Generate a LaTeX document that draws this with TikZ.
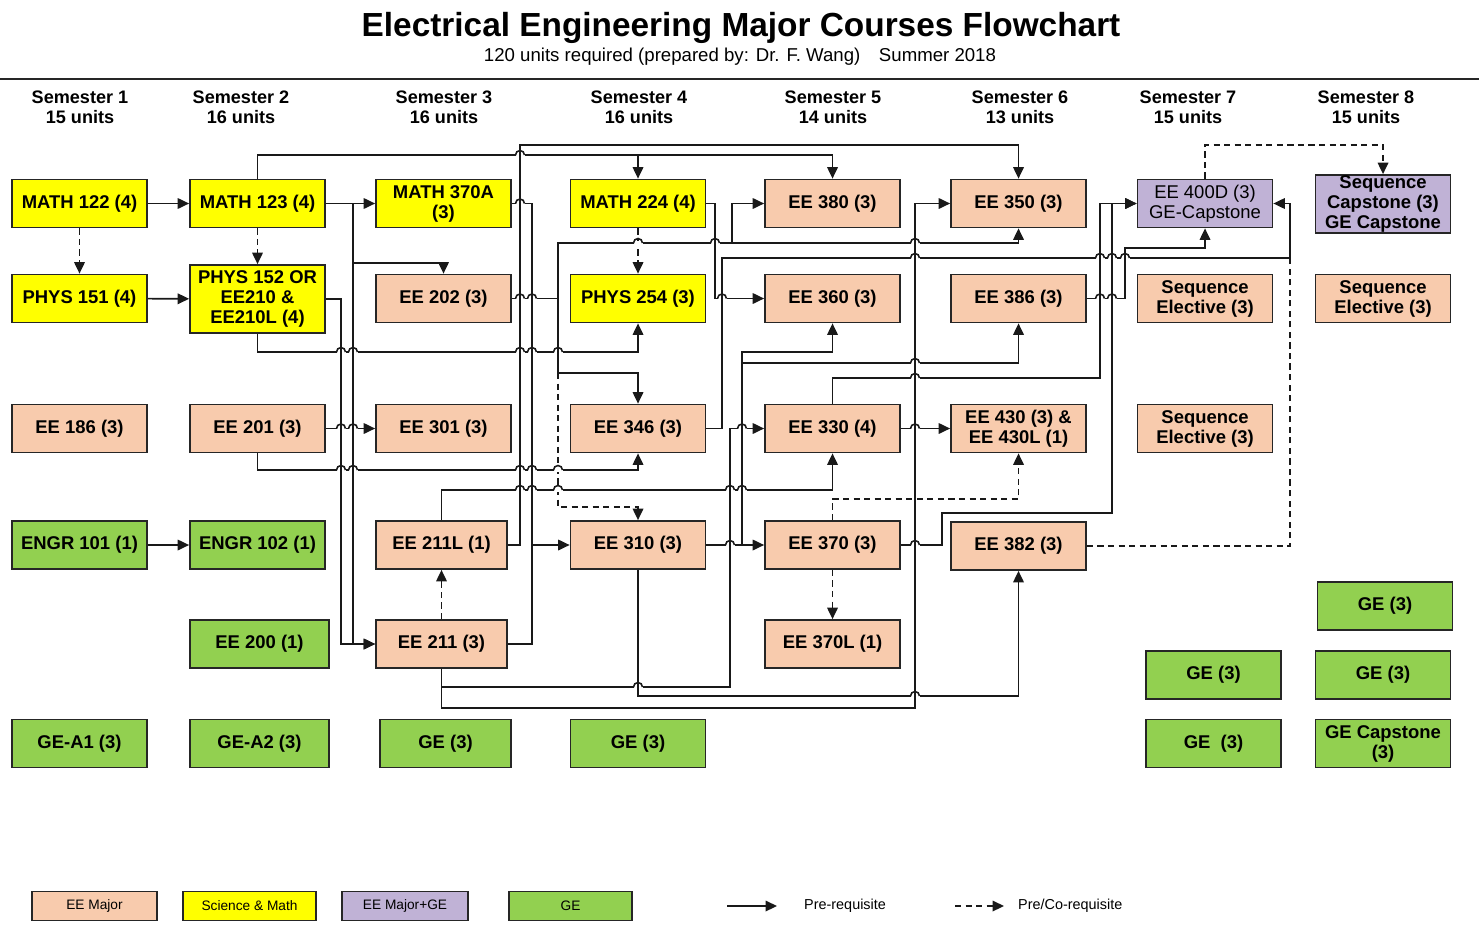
\documentclass[tikz,border=0pt]{standalone}
\usepackage{fontspec}
\setmainfont{Liberation Sans}
\usetikzlibrary{arrows.meta}
\definecolor{eepeach}{HTML}{F8CBAD}
\definecolor{scimath}{HTML}{FFFF00}
\definecolor{eege}{HTML}{C0B2D6}
\definecolor{gegreen}{HTML}{92D050}
\begin{document}
\begin{tikzpicture}[x=0.02cm, y=-0.02cm,
    course/.style={draw=black!85, line width=1pt, minimum width=2.7cm, minimum height=0.96cm, align=center, inner sep=1pt, font=\fontsize{10.5}{11.4}\selectfont\bfseries},
    ee/.style={course, fill=eepeach},
    sci/.style={course, fill=scimath},
    mix/.style={course, fill=eege},
    gen/.style={course, fill=gegreen},
    sem/.style={align=center, font=\fontsize{10.3}{11.4}\selectfont\bfseries},
    legbox/.style={draw=black!85, line width=0.8pt, minimum height=0.58cm, font=\fontsize{7.8}{9}\selectfont},
    link/.style={line width=0.9pt, black!90},
    colink/.style={link, dash pattern=on 3.5pt off 2.5pt},
    pre/.style={link, -{Triangle[length=6.5pt,width=6pt]}},
    co/.style={colink, -{Triangle[length=6.5pt,width=6pt]}}]
\useasboundingbox (0,0) rectangle (1479,933);

    \node[font=\fontsize{19}{21}\selectfont\bfseries] (title) at (741,28) {Electrical Engineering Major Courses Flowchart};
    \node[font=\fontsize{10.6}{12}\selectfont] (subtitle) at (740,57) {120 units required (prepared by: Dr. F. Wang)\quad Summer 2018};
\draw[line width=1.4pt, black!85] (0,79) -- (1479,79);
\foreach \x/\n/\u in {80/1/15, 241/2/16, 444/3/16, 639/4/16, 833/5/14, 1020/6/13, 1188/7/15, 1366/8/15}
    \node[sem] (sem\n) at (\x,107) {Semester \n\\\u\ units};

    \node[sci] (m122) at (79.5,203.5) {MATH 122 (4)};
    \node[sci] (p151) at (79.5,298.5) {PHYS 151 (4)};
    \node[ee] (ee186) at (79.5,428.5) {EE 186 (3)};
    \node[gen] (engr101) at (79.5,545) {ENGR 101 (1)};
    \node[gen] (gea1) at (79.5,743.5) {GE-A1 (3)};

    \node[sci] (m123) at (257.5,203.5) {MATH 123 (4)};
    \node[sci, minimum height=1.36cm] (p152) at (257.5,299) {PHYS 152 OR\\EE210 \&\\EE210L (4)};
    \node[ee] (ee201) at (257.5,428.5) {EE 201 (3)};
    \node[gen] (engr102) at (257.5,545) {ENGR 102 (1)};
    \node[gen, minimum width=2.78cm] (ee200) at (259.5,644) {EE 200 (1)};
    \node[gen, minimum width=2.78cm] (gea2) at (259.5,743.5) {GE-A2 (3)};

    \node[sci] (m370) at (443.5,203.5) {MATH 370A\\(3)};
    \node[ee] (ee202) at (443.5,298.5) {EE 202 (3)};
    \node[ee] (ee301) at (443.5,428.5) {EE 301 (3)};
    \node[ee, minimum width=2.62cm] (ee211l) at (441.5,545) {EE 211L (1)};
    \node[ee, minimum width=2.62cm] (ee211) at (441.5,644) {EE 211 (3)};
    \node[gen, minimum width=2.62cm] (ge3) at (445.5,743.5) {GE (3)};

    \node[sci] (m224) at (638,203.5) {MATH 224 (4)};
    \node[sci] (p254) at (638,298.5) {PHYS 254 (3)};
    \node[ee] (ee346) at (638,428.5) {EE 346 (3)};
    \node[ee] (ee310) at (638,545) {EE 310 (3)};
    \node[gen] (ge4) at (638,743.5) {GE (3)};

    \node[ee] (ee380) at (832.5,203.5) {EE 380 (3)};
    \node[ee] (ee360) at (832.5,298.5) {EE 360 (3)};
    \node[ee] (ee330) at (832.5,428.5) {EE 330 (4)};
    \node[ee] (ee370) at (832.5,545) {EE 370 (3)};
    \node[ee] (ee370l) at (832.5,644) {EE 370L (1)};

    \node[ee] (ee350) at (1018.5,203.5) {EE 350 (3)};
    \node[ee] (ee386) at (1018.5,298.5) {EE 386 (3)};
    \node[ee] (ee430) at (1018.5,428.5) {EE 430 (3) \&\\EE 430L (1)};
    \node[ee] (ee382) at (1018.5,546) {EE 382 (3)};

    \node[mix, font=\fontsize{10.5}{11.4}\selectfont] (ee400) at (1205,203.5) {EE 400D (3)\\GE-Capstone};
    \node[ee] (seq7a) at (1205,298.5) {Sequence\\Elective (3)};
    \node[ee] (seq7b) at (1205,428.5) {Sequence\\Elective (3)};
    \node[gen] (ge7a) at (1213.5,675) {GE (3)};
    \node[gen] (ge7b) at (1213.5,743.5) {GE~ (3)};

    \node[mix, minimum height=1.16cm, inner sep=0pt] (seqcap) at (1383,204) {Sequence\\Capstone (3)\\GE Capstone};
    \node[ee] (seq8) at (1383,298.5) {Sequence\\Elective (3)};
    \node[gen] (ge8a) at (1385,606) {GE (3)};
    \node[gen] (ge8b) at (1383,675) {GE (3)};
    \node[gen] (gecap) at (1383,743.5) {GE Capstone\\(3)};

\draw[pre] (m122) -- (m123);
\draw[pre] (p151) -- (p152);
\draw[pre] (engr101) -- (engr102);
\draw[pre] (ee201) -- (ee301);
\draw[pre] (m123) -- (m370);
\draw[pre] (m123.east) -- (353,203.5) -- (353,263) -| (ee202.north);
\draw[pre] (353,203.5) |- (ee211.west);
\draw[pre] (p152.east) -- (341,299) |- (ee211.west);
\draw[pre] (m123.north) -- (257.5,155) -| (m224.north);
\draw[pre] (638,155) -| (ee380.north);
\draw[pre] (ee211l.east) -| (520,145) -| (ee350.north);
\draw[link] (m370.east) -| (532,644) -- (ee211.east);
\draw[pre] (532,545) -- (ee310.west);
\draw[link] (ee202.east) -- (558,298.5);
\draw[pre] (558,373) -- (558,243) -| (ee350.south);
\draw[pre] (732,243) |- (ee380.west);
\draw[pre] (558,373) -| (ee346.north);
\draw[co] (558,373) -- (558,507) -| (ee310.north);
\draw[pre] (p152.south) -- (257.5,352) -| (p254.south);
\draw[pre] (ee201.south) -- (257.5,470) -| (ee346.south);
\draw[pre] (ee211l.north) -- (441.5,490) -| (ee330.south);
\draw[pre] (m224.east) -- (715,203.5) |- (ee360.west);
\draw[pre] (ee346.east) -| (722,258) -| (1290,203.5) -- (ee400.east);
\draw[colink] (ee382.east) -| (1290,258);
\draw[pre] (ee211.south) -- (441.5,687) -| (730,428.5) -- (ee330.west);
\draw[pre] (ee211.south) -- (441.5,708) -| (915,203.5) -- (ee350.west);
\draw[pre] (ee310.south) -- (638,696) -| (ee382.south);
\draw[pre] (ee310) -- (ee370);
\draw[pre] (742,545) -- (742,352) -| (ee360.south);
\draw[pre] (742,363) -| (ee386.south);
\draw[pre] (ee330) -- (ee430);
\draw[pre] (ee330.north) -- (832.5,378) -| (1100,203.5) -- (ee400.west);
\draw[pre] (ee370.east) -- (942,545) -- (942,513) -| (1112,203.5) -- (ee400.west);
\draw[pre] (ee386.east) -- (1125,298.5) |- (1205,248) -- (ee400.south);
\draw[co] (ee370.north) -- (832.5,499) -| (ee430.south);
\draw[co] (ee370) -- (ee370l);
\draw[co] (m122) -- (p151);
\draw[co] (m123) -- (p152);
\draw[co] (m224) -- (p254);
\draw[co] (ee211) -- (ee211l);
\draw[co] (ee400.north) |- (1300,145) -| (seqcap.north);

\foreach \hx/\hy in {341/352, 353/352, 520/352, 532/352, 558/352, 341/428.5, 353/428.5, 341/470, 353/470, 520/470, 532/470, 520/490, 532/490, 730/490, 742/490, 520/298.5, 532/298.5, 520/203.5, 520/155, 715/243, 915/243, 915/258, 1100/258, 1112/258, 1125/258, 915/363, 915/378, 742/428.5, 915/428.5, 730/545, 915/545, 722/298.5, 1100/298.5, 1112/298.5, 638/687, 915/696} {
    \fill[white] (\hx-4.5,\hy-2) rectangle (\hx+4.5,\hy+2);
    \draw[link] (\hx,\hy-5) -- (\hx,\hy+5);
    \draw[link] (\hx-4.5,\hy) arc[start angle=180, end angle=0, radius=0.09cm];
}
\foreach \hx/\hy in {558/470, 558/490, 638/243} {
    \fill[white] (\hx-4.5,\hy-2) rectangle (\hx+4.5,\hy+2);
    \draw[link] (\hx-4.5,\hy) arc[start angle=180, end angle=0, radius=0.09cm];
}

    \node[legbox, fill=eepeach, minimum width=2.5cm] (legee) at (94.5,906) {EE Major};
    \node[legbox, fill=scimath, minimum width=2.66cm] (legsci) at (249.5,906) {Science \& Math};
    \node[legbox, fill=eege, minimum width=2.52cm] (legmix) at (405,906) {EE Major+GE};
    \node[legbox, fill=gegreen, minimum width=2.46cm] (legge) at (570.5,906) {GE};
    \coordinate (lpa) at (727,906);
    \coordinate (lpb) at (777,906);
    \coordinate (lca) at (955,906);
    \coordinate (lcb) at (1004,906);
    \node[anchor=west, font=\fontsize{8.2}{9}\selectfont] (legpre) at (798,906) {Pre-requisite};
    \node[anchor=west, font=\fontsize{8.2}{9}\selectfont] (legco) at (1012,906) {Pre/Co-requisite};
\draw[pre] (lpa) -- (lpb);
\draw[co] (lca) -- (lcb);
\end{tikzpicture}
\end{document}
